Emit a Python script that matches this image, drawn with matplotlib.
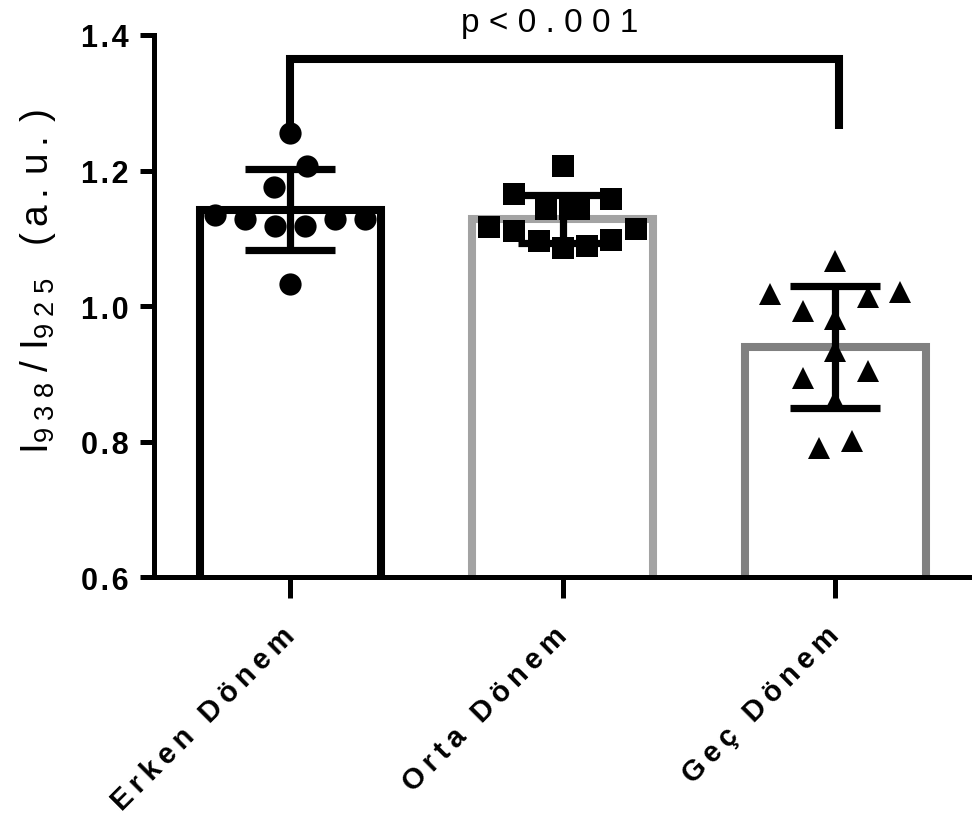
import numpy as np
import matplotlib
matplotlib.use('Agg')
import matplotlib.pyplot as plt
from matplotlib.transforms import ScaledTranslation

plt.rcParams['font.family'] = ['Liberation Sans', 'DejaVu Sans']
plt.rcParams['mathtext.fontset'] = 'custom'
plt.rcParams['mathtext.rm'] = 'Liberation Sans'
plt.rcParams['mathtext.default'] = 'regular'

# ---------------------------------------------------------------------------
# data: I938/I925 ratio per sample, three periods
# ---------------------------------------------------------------------------
groups = ["Erken Dönem", "Orta Dönem", "Geç Dönem"]

erken    = [1.255, 1.206, 1.175, 1.135, 1.128, 1.118, 1.118, 1.128, 1.128, 1.032]
erken_dx = [0.0, 0.060, -0.058, -0.275, -0.165, -0.055, 0.055, 0.165, 0.275, 0.0]

orta     = [1.207, 1.165, 1.158, 1.143, 1.143, 1.143, 1.117, 1.110, 1.096,
            1.086, 1.088, 1.098, 1.114]
orta_dx  = [0.0, -0.180, 0.179, -0.060, 0.026, 0.061, -0.269, -0.180, -0.088,
            0.0, 0.089, 0.179, 0.269]

gec      = [1.067, 1.017, 1.021, 1.013, 0.993, 0.981, 0.934, 0.894, 0.904,
            0.791, 0.801, 0.860]
gec_dx   = [0.0, -0.240, 0.237, 0.119, -0.117, 0.0, 0.0, -0.117, 0.119,
            -0.059, 0.060, 0.0]

samples = [erken, orta, gec]
offsets = [erken_dx, orta_dx, gec_dx]
markers = ['o', 's', '^']
edge_colors = ['#000000', '#a3a3a3', '#808080']

yticks = [0.6, 0.8, 1.0, 1.2, 1.4]
p_label = "p<0.001"

THIN = "\u2009"
HAIR = "\u200a"


def spaced(s, sep=THIN):
    return sep.join(s)


# ---------------------------------------------------------------------------
# figure
# ---------------------------------------------------------------------------
fig = plt.figure(figsize=(9.72, 8.2), dpi=100, facecolor='white')
ax = fig.add_axes([0.1584, 0.2951, 0.8410, 0.6610])

x = np.arange(len(groups))
means = [np.mean(s) for s in samples]
sds = [np.std(s, ddof=1) for s in samples]

ax.bar(x, means, width=0.664, color='white', edgecolor=edge_colors,
       linewidth=5.8, zorder=1)

ax.errorbar(x, means, yerr=sds, fmt='none', ecolor='black', elinewidth=5.2,
            capsize=32.5, capthick=5.2, zorder=3)

for xi, vals, dx, m in zip(x, samples, offsets, markers):
    ax.plot(xi + np.array(dx), vals, linestyle='none', marker=m,
            markersize=16, color='black', markeredgewidth=0, zorder=4,
            clip_on=False)

# significance bracket Erken vs Geç
ax.plot([0, 0, 2.015, 2.015], [erken[0], 1.365, 1.365, 1.261],
        color='black', lw=5.8, solid_joinstyle='miter',
        solid_capstyle='butt', clip_on=False, zorder=5)
ax.text(0.954, 1.418, spaced(p_label, THIN + HAIR), ha='center',
        va='center', fontsize=24, clip_on=False)

# axes styling
ax.set_xlim(-0.5, 2.5)
ax.set_ylim(0.6, 1.4)
for side in ['top', 'right']:
    ax.spines[side].set_visible(False)
for side in ['left', 'bottom']:
    ax.spines[side].set_linewidth(3.6)
    ax.spines[side].set_zorder(6)

ax.set_yticks(yticks)
ax.set_yticklabels([spaced(f"{v:.1f}", HAIR) for v in yticks], fontsize=22,
                   fontweight='bold')
ax.tick_params(axis='y', length=10, width=3.6, pad=8)

ax.set_xticks(x)
ax.set_xticklabels([spaced(g) for g in groups], rotation=45, ha='right',
                   rotation_mode='anchor', fontsize=21, fontweight='bold')
ax.tick_params(axis='x', length=15, width=3.6, pad=18)
shift = ScaledTranslation(-0.10, 0.02, fig.dpi_scale_trans)
for lab in ax.get_xticklabels():
    lab.set_transform(lab.get_transform() + shift)

ylab = r"$I_{9\;3\;8}\;/\;I_{9\;2\;5}\;\;\;(\,a\,.\,u\,.\,)$"
ax.set_ylabel(ylab, fontsize=28, va='center')
ax.yaxis.set_label_coords(-0.142, 0.548)

fig.savefig("out.png", dpi=100, facecolor='white')
plt.close(fig)
